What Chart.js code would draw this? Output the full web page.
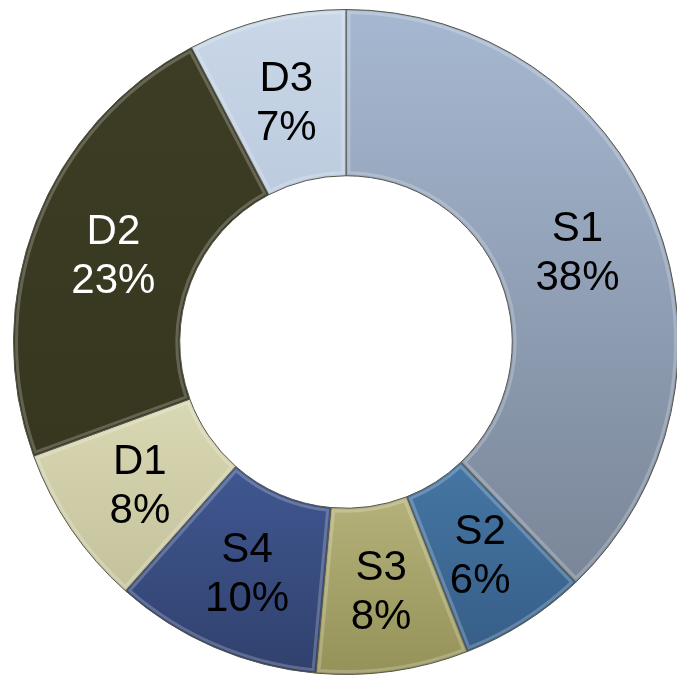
<!DOCTYPE html>
<html>
<head>
<meta charset="utf-8">
<script src="https://cdn.jsdelivr.net/npm/chart.js@4"></script>
<style>
    html, body { margin: 0; padding: 0; background: #ffffff; overflow: hidden; }
    #wrap { position: absolute; left: 0; top: 0; width: 680px; height: 678px; }
</style>
</head>
<body>
<div id="wrap"><canvas id="donut-chart" width="680" height="678"></canvas></div>
<script>
// Slice data, clockwise from 12 o'clock (sizes as drawn in the picture)
const labels = ['S1', 'S2', 'S3', 'S4', 'D1', 'D2', 'D3'];
const shares = [37.9, 6.2, 7.4, 10.1, 7.9, 22.9, 7.7];
const shareText = ['38%', '6%', '8%', '10%', '8%', '23%', '7%'];

// Light / dark colour of each slice
const lightColors = ['#a6b8d1', '#4676a4', '#b4b27a', '#405791', '#d9d8b4', '#3d3d25', '#c9d7e8'];
const darkColors = ['#7a8698', '#365e88', '#949258', '#30416d', '#c4c29b', '#373720', '#bccbde'];
const textColors = ['#000', '#000', '#000', '#000', '#000', '#fff', '#000'];

// Vertical gradient spanning each slice's own height
function sliceColor(ctx) {
    const chart = ctx.chart;
    const area = chart.chartArea;
    const i = ctx.dataIndex;
    if (!area) return lightColors[i];
    const cx = (area.left + area.right) / 2;
    const cy = (area.top + area.bottom) / 2;
    const outer = Math.min(area.right - area.left, area.bottom - area.top) / 2;
    const inner = outer / 2;
    const total = shares.reduce((a, b) => a + b, 0);
    let before = 0;
    for (let k = 0; k < i; k++) before += shares[k];
    const a0 = before / total * 2 * Math.PI - Math.PI / 2;
    const a1 = (before + shares[i]) / total * 2 * Math.PI - Math.PI / 2;
    let minY = Infinity, maxY = -Infinity;
    for (let s = 0; s <= 20; s++) {
        const a = a0 + (a1 - a0) * s / 20;
        [inner, outer].forEach(function(r) {
            const y = cy + Math.sin(a) * r;
            minY = Math.min(minY, y);
            maxY = Math.max(maxY, y);
        });
    }
    const g = chart.ctx.createLinearGradient(0, minY, 0, maxY);
    g.addColorStop(0, lightColors[i]);
    g.addColorStop(1, darkColors[i]);
    return g;
}

// Soft bevel highlight along each slice edge, then the two-line labels
const sliceLabels = {
    id: 'sliceLabels',
    afterDatasetsDraw(chart) {
        const c = chart.ctx;
        const meta = chart.getDatasetMeta(0);
        c.save();
        meta.data.forEach(function(arc) {
            const inset = 3;
            const ro = arc.outerRadius - inset;
            const ri = arc.innerRadius + inset;
            const d0 = inset / ri;
            const e0 = inset / ro;
            c.beginPath();
            c.arc(arc.x, arc.y, ro, arc.startAngle + e0, arc.endAngle - e0);
            c.arc(arc.x, arc.y, ri, arc.endAngle - d0, arc.startAngle + d0, true);
            c.closePath();
            c.strokeStyle = 'rgba(255,255,255,0.22)';
            c.lineWidth = 3;
            c.stroke();
        });
        c.font = '42px "Liberation Sans", Arial, sans-serif';
        c.textAlign = 'center';
        c.textBaseline = 'middle';
        meta.data.forEach(function(arc, i) {
            const mid = (arc.startAngle + arc.endAngle) / 2;
            const r = (arc.innerRadius + arc.outerRadius) / 2;
            const x = arc.x + Math.cos(mid) * r;
            const y = arc.y + Math.sin(mid) * r + 4;
            c.fillStyle = textColors[i];
            c.fillText(labels[i], x, y - 24);
            c.fillText(shareText[i], x, y + 25);
        });
        c.restore();
    }
};

new Chart(document.getElementById('donut-chart'), {
    type: 'doughnut',
    data: {
        labels: labels,
        datasets: [{
            data: shares,
            backgroundColor: sliceColor,
            borderColor: '#55554a',
            borderWidth: 1
        }]
    },
    options: {
        responsive: false,
        animation: false,
        cutout: '50%',
        layout: {
            padding: { left: 13, right: 1, top: 9, bottom: 3 }
        },
        plugins: {
            legend: { display: false },
            tooltip: { enabled: false }
        }
    },
    plugins: [sliceLabels]
});
</script>
</body>
</html>
